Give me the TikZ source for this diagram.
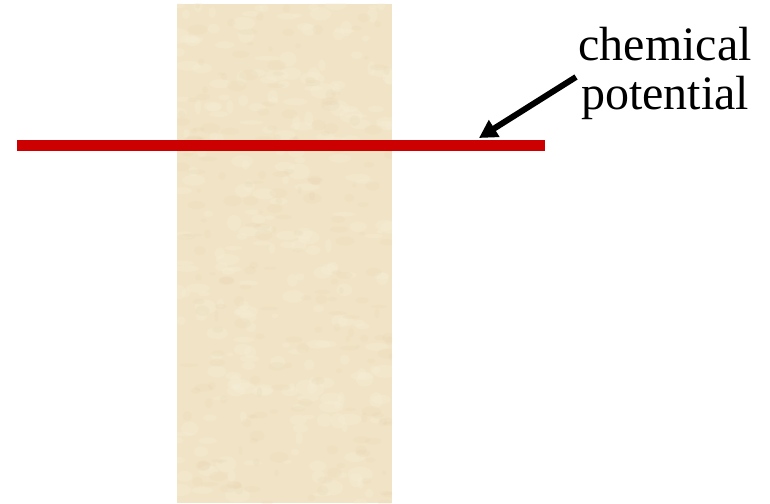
\documentclass[tikz,border=0pt]{standalone}
\usepackage{fontspec}
\setmainfont{Liberation Serif}
\usetikzlibrary{arrows.meta}
\definecolor{paper}{RGB}{241,228,198}
\definecolor{paperlight}{RGB}{247,238,216}
\definecolor{paperdark}{RGB}{232,214,180}
\definecolor{potred}{RGB}{204,0,0}
\tikzset{
  level/.style={draw=potred, line width=10.5pt},
  pointer/.style={line width=6pt, -{Triangle[length=18pt,width=19pt]}},
  label/.style={font=\fontsize{48}{48.5}\selectfont, align=center, inner sep=0pt, anchor=north}
}
\begin{document}
\begin{tikzpicture}[x=1pt,y=-1pt]
\useasboundingbox (0,0) rectangle (770,503);
% textured slab
\begin{scope}
\clip (177,4) rectangle (392,503);
\fill[paper] (177,4) rectangle (392,503);
\pgfmathsetseed{11}
\foreach \i in {1,...,260}{
  \pgfmathsetmacro{\px}{177+215*rnd}
  \pgfmathsetmacro{\py}{4+499*rnd}
  \pgfmathsetmacro{\rx}{3+10*rnd}
  \pgfmathsetmacro{\ry}{2+6*rnd}
  \fill[paperlight, opacity=0.3] (\px,\py) ellipse [x radius=\rx, y radius=\ry];
}
\foreach \i in {1,...,220}{
  \pgfmathsetmacro{\px}{177+215*rnd}
  \pgfmathsetmacro{\py}{4+499*rnd}
  \pgfmathsetmacro{\rx}{2+8*rnd}
  \pgfmathsetmacro{\ry}{1.5+4*rnd}
  \fill[paperdark, opacity=0.22] (\px,\py) ellipse [x radius=\rx, y radius=\ry];
}
\end{scope}
% chemical potential line
\coordinate (lineL) at (17,145.5);
\coordinate (lineR) at (545,145.5);
\draw[level] (lineL) -- (lineR);
% label and arrow
\node[label] (lbl) at (665,27) {chemical\\potential};
\coordinate (tail) at (576,77);
\coordinate (tip) at (479,138);
\draw[pointer] (tail) -- (tip);
\end{tikzpicture}
\end{document}
